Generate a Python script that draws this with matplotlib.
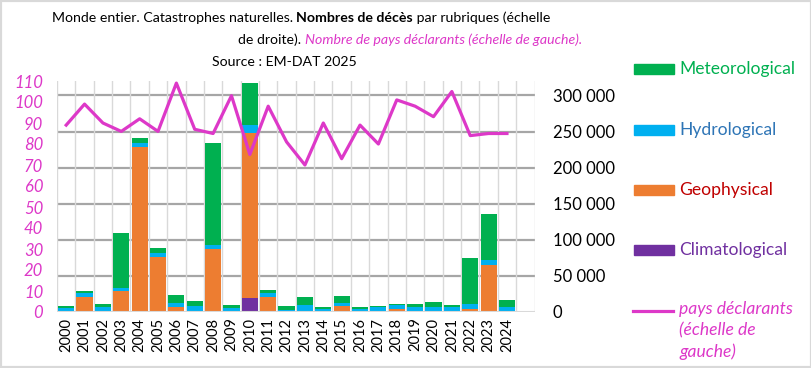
import matplotlib
matplotlib.use("Agg")
import matplotlib.pyplot as plt
from matplotlib.patches import Rectangle
from matplotlib.lines import Line2D
from matplotlib.ticker import FuncFormatter, MultipleLocator

plt.rcParams['font.family'] = ['Lato', 'DejaVu Sans']

# data
years = [str(y) for y in range(2000, 2025)]
climatological = [0, 0, 0, 0, 0, 0, 0, 0, 0, 0, 19900, 0, 0, 0, 0, 0, 0, 0, 0, 0, 0, 0, 1400, 0, 0]
geophysical = [0, 21000, 1400, 28600, 228000, 75700, 6500, 0, 87700, 0, 227600, 20300, 0, 0, 0,
               8800, 0, 0, 4600, 0, 0, 1800, 2300, 64600, 0]
hydrological = [6000, 5500, 6000, 5100, 6500, 6500, 6500, 8800, 4600, 6000, 12000, 6500, 3200, 10200, 4600,
                3700, 4600, 6500, 4600, 6500, 6500, 4600, 7400, 7800, 7400]
meteorological = [2800, 3200, 4200, 76200, 6900, 6900, 10200, 6900, 142200, 4200, 58200, 3200, 5500, 11100, 2800,
                  10200, 2800, 2300, 1400, 5100, 7800, 3700, 63700, 63700, 8800]
pays = [89, 99, 90, 86, 92, 86, 109, 87, 85, 103, 75, 98, 81, 70, 90,
        73, 89, 80, 101, 98, 93, 105, 84, 85, 85]

c_met = '#00B050'
c_hyd = '#00B0F0'
c_geo = '#ED7D31'
c_cli = '#7030A0'
c_line = '#DD38C8'

fig = plt.figure(figsize=(8.12, 3.68), dpi=100)
fig.add_artist(Rectangle((0, 0), 1, 1, transform=fig.transFigure, fill=False,
                         edgecolor='#D9D9D9', linewidth=3))

ax2 = fig.add_axes([57 / 812, 1 - 312 / 368, 477.5 / 812, 231 / 368])
ax = ax2.twinx()
# left axis (countries) on top of bars
ax.yaxis.tick_left()
ax2.yaxis.tick_right()
ax.set_zorder(ax2.get_zorder() + 1)
ax.patch.set_visible(False)

x = list(range(len(years)))
bw = 0.88
bottom = [0] * len(years)
for vals, col in [(climatological, c_cli), (geophysical, c_geo), (hydrological, c_hyd), (meteorological, c_met)]:
    ax2.bar(x, vals, bw, bottom=bottom, color=col, zorder=3)
    bottom = [b + v for b, v in zip(bottom, vals)]

ax.plot(x, pays, color=c_line, linewidth=2.3, zorder=5)

# right scale (deaths)
ax2.set_xlim(-0.5, len(years) + 0.5)
ax2.set_ylim(0, 320000)
ax2.set_yticks(range(0, 300001, 50000))
ax2.yaxis.set_major_formatter(FuncFormatter(lambda v, p: f"{int(v):,}".replace(",", " ")))
ax2.tick_params(axis='y', length=0, labelsize=12, labelcolor='black', pad=13)
for y in range(50000, 300001, 50000):
    ax2.axhline(y, color='#A6A6A6', linewidth=1.6, zorder=1)
for k in range(len(years) + 2):
    ax2.axvline(k - 0.5, color='#D9D9D9', linewidth=1, zorder=1)
ax2.axhline(0, color='#D9D9D9', linewidth=1.5, zorder=4)

ax2.set_xticks(x)
ax2.set_xticklabels(years, rotation=90, fontsize=10.5)
ax2.tick_params(axis='x', length=0, pad=4)

# left scale (countries)
ax.set_ylim(0, 110)
ax.yaxis.set_major_locator(MultipleLocator(10))
ax.tick_params(axis='y', length=0, labelsize=12, labelcolor=c_line, pad=10)
for lab in ax.get_yticklabels():
    lab.set_style('italic')

for a in (ax, ax2):
    for s in a.spines.values():
        s.set_visible(False)

# title (mixed styles), each line centred on a given x
fig.canvas.draw()
renderer = fig.canvas.get_renderer()
fs = 10.2


def put_line(pieces, xc, y0):
    texts = []
    total = 0
    for txt, kw in pieces:
        t = fig.text(0, 1 - y0 / 368, txt, fontsize=fs, va='baseline', ha='left', **kw)
        w = t.get_window_extent(renderer=renderer).width
        texts.append((t, w))
        total += w
    xpix = xc - total / 2
    for t, w in texts:
        t.set_x(xpix / 812)
        xpix += w


put_line([("Monde entier. Catastrophes naturelles. ", {}),
          ("Nombres de décès", {'weight': 'bold'}),
          (" par rubriques (échelle", {})], 301, 22)
put_line([("de droite). ", {}),
          ("Nombre de pays déclarants (échelle de gauche).", {'style': 'italic', 'color': c_line})], 410, 44)
fig.text(284 / 812, 1 - 66 / 368, "Source : EM-DAT 2025", fontsize=fs, ha='center', va='baseline')

# legend
leg = [("Meteorological", c_met, '#00B050', 69),
       ("Hydrological", c_hyd, '#2E75B6', 130),
       ("Geophysical", c_geo, '#C00000', 190),
       ("Climatological", c_cli, '#7030A0', 250)]
for name, col, tcol, yy in leg:
    fig.add_artist(Rectangle((634 / 812, 1 - (yy + 5) / 368), 40 / 812, 10 / 368,
                             transform=fig.transFigure, color=col))
    fig.text(679 / 812, 1 - yy / 368, name, fontsize=12.6, color=tcol, ha='left', va='center')
fig.add_artist(Line2D([633 / 812, 673 / 812], [1 - 311 / 368] * 2, transform=fig.transFigure,
                      color=c_line, linewidth=2.3))
fig.text(679 / 812, 1 - 301 / 368, "pays déclarants\n(échelle de\ngauche)", fontsize=12.6,
         color=c_line, style='italic', ha='left', va='top', linespacing=1.4)

fig.savefig("out.png", dpi=100)
